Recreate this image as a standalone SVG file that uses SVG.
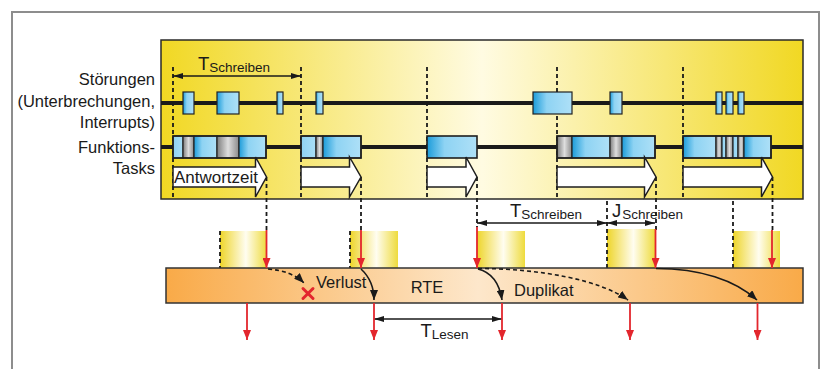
<svg xmlns="http://www.w3.org/2000/svg" width="823" height="369" viewBox="0 0 823 369">
<style>
.lbl{font-family:"Liberation Sans",Arial,sans-serif;font-size:16.5px;fill:#1a1a1a}
.big{font-family:"Liberation Sans",Arial,sans-serif;font-size:18.5px;fill:#1a1a1a}
.sub{font-size:13.5px}
.dash{stroke:#1a1a1a;stroke-width:1.8;stroke-dasharray:4 3;fill:none}
.red{stroke:#e3262d;stroke-width:1.8;fill:none;marker-end:url(#rh)}
.seg{stroke:#222;stroke-width:1.2}
.box{fill:none;stroke:#1e1e1e;stroke-width:1.6}
.blk{fill:#fff;stroke:#1e1e1e;stroke-width:1.5;stroke-linejoin:miter}
.dim{stroke:#1a1a1a;stroke-width:1.4;fill:none;marker-start:url(#ah);marker-end:url(#ah)}
.crv{stroke:#1a1a1a;stroke-width:1.6;fill:none;marker-end:url(#ah2)}
.crvd{stroke:#1a1a1a;stroke-width:1.6;fill:none;stroke-dasharray:4 3;marker-end:url(#ah2)}
.buf{fill:url(#bufG)}
.bl{fill:url(#blueG)}
.lb{fill:url(#lightG)}
.gr{fill:url(#grayG)}
</style>
<defs>
<linearGradient id="panelG" x1="0" y1="0" x2="1" y2="0">
<stop offset="0" stop-color="#f1d823"/><stop offset="0.5" stop-color="#fffbe2"/><stop offset="1" stop-color="#f1d823"/>
</linearGradient>
<linearGradient id="rteG" x1="0" y1="0" x2="1" y2="0">
<stop offset="0" stop-color="#f9aa48"/><stop offset="0.49" stop-color="#fde7cb"/><stop offset="1" stop-color="#f9aa48"/>
</linearGradient>
<linearGradient id="bufG" x1="0" y1="0" x2="1" y2="0">
<stop offset="0" stop-color="#eed52a"/><stop offset="0.55" stop-color="#fffdf0"/><stop offset="1" stop-color="#eedb3c"/>
</linearGradient>
<linearGradient id="blueG" x1="0" y1="0" x2="1" y2="0">
<stop offset="0" stop-color="#1c9cda"/><stop offset="0.35" stop-color="#8ed3f3"/><stop offset="1" stop-color="#aee0f7"/>
</linearGradient>
<linearGradient id="lightG" x1="0" y1="0" x2="1" y2="0">
<stop offset="0" stop-color="#8fd2f2"/><stop offset="1" stop-color="#a9def6"/>
</linearGradient>
<linearGradient id="grayG" x1="0" y1="0" x2="1" y2="0">
<stop offset="0" stop-color="#7d7d7d"/><stop offset="0.5" stop-color="#dedede"/><stop offset="1" stop-color="#8a8a8a"/>
</linearGradient>
<marker id="rh" viewBox="0 0 10 8" refX="10" refY="4" markerWidth="10" markerHeight="8" markerUnits="userSpaceOnUse" orient="auto">
<path d="M0,0 L10,4 L0,8 z" fill="#e3262d"/>
</marker>
<marker id="ah" viewBox="0 0 10 6" refX="10" refY="3" markerWidth="10" markerHeight="6" markerUnits="userSpaceOnUse" orient="auto-start-reverse">
<path d="M0,0 L10,3 L0,6 z" fill="#1a1a1a"/>
</marker>
<marker id="ah2" viewBox="0 0 10 8" refX="10" refY="4" markerWidth="10" markerHeight="8" markerUnits="userSpaceOnUse" orient="auto">
<path d="M0,0 L10,4 L0,8 z" fill="#1a1a1a"/>
</marker>
</defs>

<rect id="frame" x="12" y="12" width="807" height="372" fill="#fff" stroke="#8d8d8d" stroke-width="2"/>

<g id="panel">
<rect x="161" y="40" width="642" height="159" fill="url(#panelG)" stroke="#2a2a2a" stroke-width="1.5"/>
<line x1="161" y1="103" x2="803" y2="103" stroke="#1a1a1a" stroke-width="4"/>
<line x1="161" y1="147" x2="803" y2="147" stroke="#1a1a1a" stroke-width="4"/>
</g>

<g id="labels" class="lbl" text-anchor="end">
<text x="155" y="85">Störungen</text>
<text x="155" y="107">(Unterbrechungen,</text>
<text x="155" y="128">Interrupts)</text>
<text x="155" y="153">Funktions-</text>
<text x="155" y="174">Tasks</text>
</g>

<g id="guides">
<line class="dash" x1="173" y1="67" x2="173" y2="199"/>
<line class="dash" x1="301" y1="67" x2="301" y2="199"/>
<line class="dash" x1="427" y1="67" x2="427" y2="199"/>
<line class="dash" x1="557" y1="67" x2="557" y2="199"/>
<line class="dash" x1="683" y1="67" x2="683" y2="199"/>
<line class="dash" x1="266.5" y1="177" x2="266.5" y2="230"/>
<line class="dash" x1="361" y1="177" x2="361" y2="230"/>
<line class="dash" x1="477" y1="177" x2="477" y2="227"/>
<line class="dash" x1="656" y1="177" x2="656" y2="230"/>
<line class="dash" x1="772.5" y1="177" x2="772.5" y2="230"/>
</g>

<g id="interrupts" class="seg">
<rect class="bl" x="183" y="92" width="11" height="22"/>
<rect class="bl" x="217" y="92" width="22" height="22"/>
<rect class="bl" x="277" y="92" width="6" height="22"/>
<rect class="bl" x="316" y="92" width="7" height="22"/>
<rect class="bl" x="533" y="92" width="39" height="22"/>
<rect class="bl" x="610" y="92" width="12" height="22"/>
<rect class="bl" x="716" y="92" width="6" height="22"/>
<rect class="bl" x="726" y="92" width="7" height="22"/>
<rect class="bl" x="738" y="92" width="6" height="22"/>
</g>

<g id="task1">
<g class="seg">
<rect class="lb" x="173" y="136" width="10" height="22"/>
<rect class="gr" x="183" y="136" width="11" height="22"/>
<rect class="bl" x="194" y="136" width="23" height="22"/>
<rect class="gr" x="217" y="136" width="22" height="22"/>
<rect class="bl" x="239" y="136" width="27" height="22"/>
</g>
<rect class="box" x="173" y="136" width="93" height="22"/>
</g>
<g id="task2">
<g class="seg">
<rect class="lb" x="301" y="136" width="15" height="22"/>
<rect class="gr" x="316" y="136" width="7" height="22"/>
<rect class="bl" x="323" y="136" width="38" height="22"/>
</g>
<rect class="box" x="301" y="136" width="60" height="22"/>
</g>
<g id="task3">
<rect class="bl" x="427" y="136" width="50" height="22"/>
<rect class="box" x="427" y="136" width="50" height="22"/>
</g>
<g id="task4">
<g class="seg">
<rect class="gr" x="557" y="136" width="15" height="22"/>
<rect class="bl" x="572" y="136" width="38" height="22"/>
<rect class="gr" x="610" y="136" width="12" height="22"/>
<rect class="bl" x="622" y="136" width="33" height="22"/>
</g>
<rect class="box" x="557" y="136" width="98" height="22"/>
</g>
<g id="task5">
<g class="seg">
<rect class="bl" x="683" y="136" width="33" height="22"/>
<rect class="gr" x="716" y="136" width="6" height="22"/>
<rect class="lb" x="722" y="136" width="4" height="22"/>
<rect class="gr" x="726" y="136" width="7" height="22"/>
<rect class="lb" x="733" y="136" width="5" height="22"/>
<rect class="gr" x="738" y="136" width="6" height="22"/>
<rect class="bl" x="744" y="136" width="27" height="22"/>
</g>
<rect class="box" x="683" y="136" width="88" height="22"/>
</g>

<g id="responses">
<polygon class="blk" points="173,167 255.5,167 255.5,157 266.5,177 255.5,197 255.5,187 173,187"/>
<polygon class="blk" points="301,167 349.5,167 349.5,157 361,177 349.5,197 349.5,187 301,187"/>
<polygon class="blk" points="427,167 466,167 466,157 477,177 466,197 466,187 427,187"/>
<polygon class="blk" points="557,167 644.5,167 644.5,157 656,177 644.5,197 644.5,187 557,187"/>
<polygon class="blk" points="683,167 761.5,167 761.5,157 772.5,177 761.5,197 761.5,187 683,187"/>
<text class="lbl" x="174" y="182.5" font-size="17" textLength="84" lengthAdjust="spacingAndGlyphs">Antwortzeit</text>
</g>

<g id="buffers">
<rect class="buf" x="220" y="231" width="47" height="37"/>
<rect class="buf" x="350" y="231" width="48" height="37"/>
<rect class="buf" x="477" y="231" width="48" height="37"/>
<rect class="buf" x="607" y="229" width="48" height="39"/>
<rect class="buf" x="733" y="231" width="47" height="37"/>
<line class="dash" x1="220" y1="231" x2="220" y2="268"/>
<line class="dash" x1="350" y1="231" x2="350" y2="268"/>
<line class="dash" x1="607" y1="201" x2="607" y2="268"/>
<line class="dash" x1="733" y1="201" x2="733" y2="268"/>
</g>

<g id="rte">
<rect x="166" y="268" width="637" height="35" fill="url(#rteG)" stroke="#333" stroke-width="1.5"/>
<text class="lbl" x="427" y="293" text-anchor="middle">RTE</text>
<text class="lbl" x="316" y="288">Verlust</text>
<text class="lbl" x="514" y="296">Duplikat</text>
<g stroke="#e3262d" stroke-width="3" stroke-linecap="round">
<line x1="303" y1="288.5" x2="313" y2="298.5"/>
<line x1="313" y1="288.5" x2="303" y2="298.5"/>
</g>
</g>

<g id="dimensions">
<line class="dim" x1="173" y1="76" x2="301" y2="76"/>
<text class="big" x="198" y="70">T<tspan class="sub" dy="2">Schreiben</tspan></text>
<line class="dim" x1="477" y1="223" x2="607" y2="223"/>
<text class="big" x="510" y="217">T<tspan class="sub" dy="1.5">Schreiben</tspan></text>
<line class="dim" x1="607" y1="223" x2="655" y2="223"/>
<text class="big" x="612" y="217">J<tspan class="sub" dx="1" dy="1.5">Schreiben</tspan></text>
<line class="dim" x1="374" y1="319" x2="502" y2="319"/>
<text class="big" x="420.5" y="336.5">T<tspan class="sub" font-size="13" dy="2.5">Lesen</tspan></text>
</g>

<g id="connectors">
<line class="red" x1="266.5" y1="230" x2="266.5" y2="268"/>
<line class="red" x1="361" y1="230" x2="361" y2="268"/>
<line class="red" x1="477" y1="227" x2="477" y2="268"/>
<line class="red" x1="655.5" y1="229" x2="655.5" y2="268"/>
<line class="red" x1="772" y1="230" x2="772" y2="268"/>
<path class="crvd" d="M268,269 Q292,271 304,283"/>
<path class="crv" d="M361,269 Q374,281 374,300"/>
<path class="crv" d="M478,269 Q498,274 502,300"/>
<path class="crvd" d="M478,268.5 C540,268.5 600,280 628,300"/>
<path class="crv" d="M656,268.5 C700,268.5 735,280 757,300"/>
<line class="red" x1="247" y1="303" x2="247" y2="340"/>
<line class="red" x1="374" y1="303" x2="374" y2="340"/>
<line class="red" x1="502" y1="303" x2="502" y2="340"/>
<line class="red" x1="630" y1="303" x2="630" y2="340"/>
<line class="red" x1="757.5" y1="303" x2="757.5" y2="340"/>
</g>
</svg>
